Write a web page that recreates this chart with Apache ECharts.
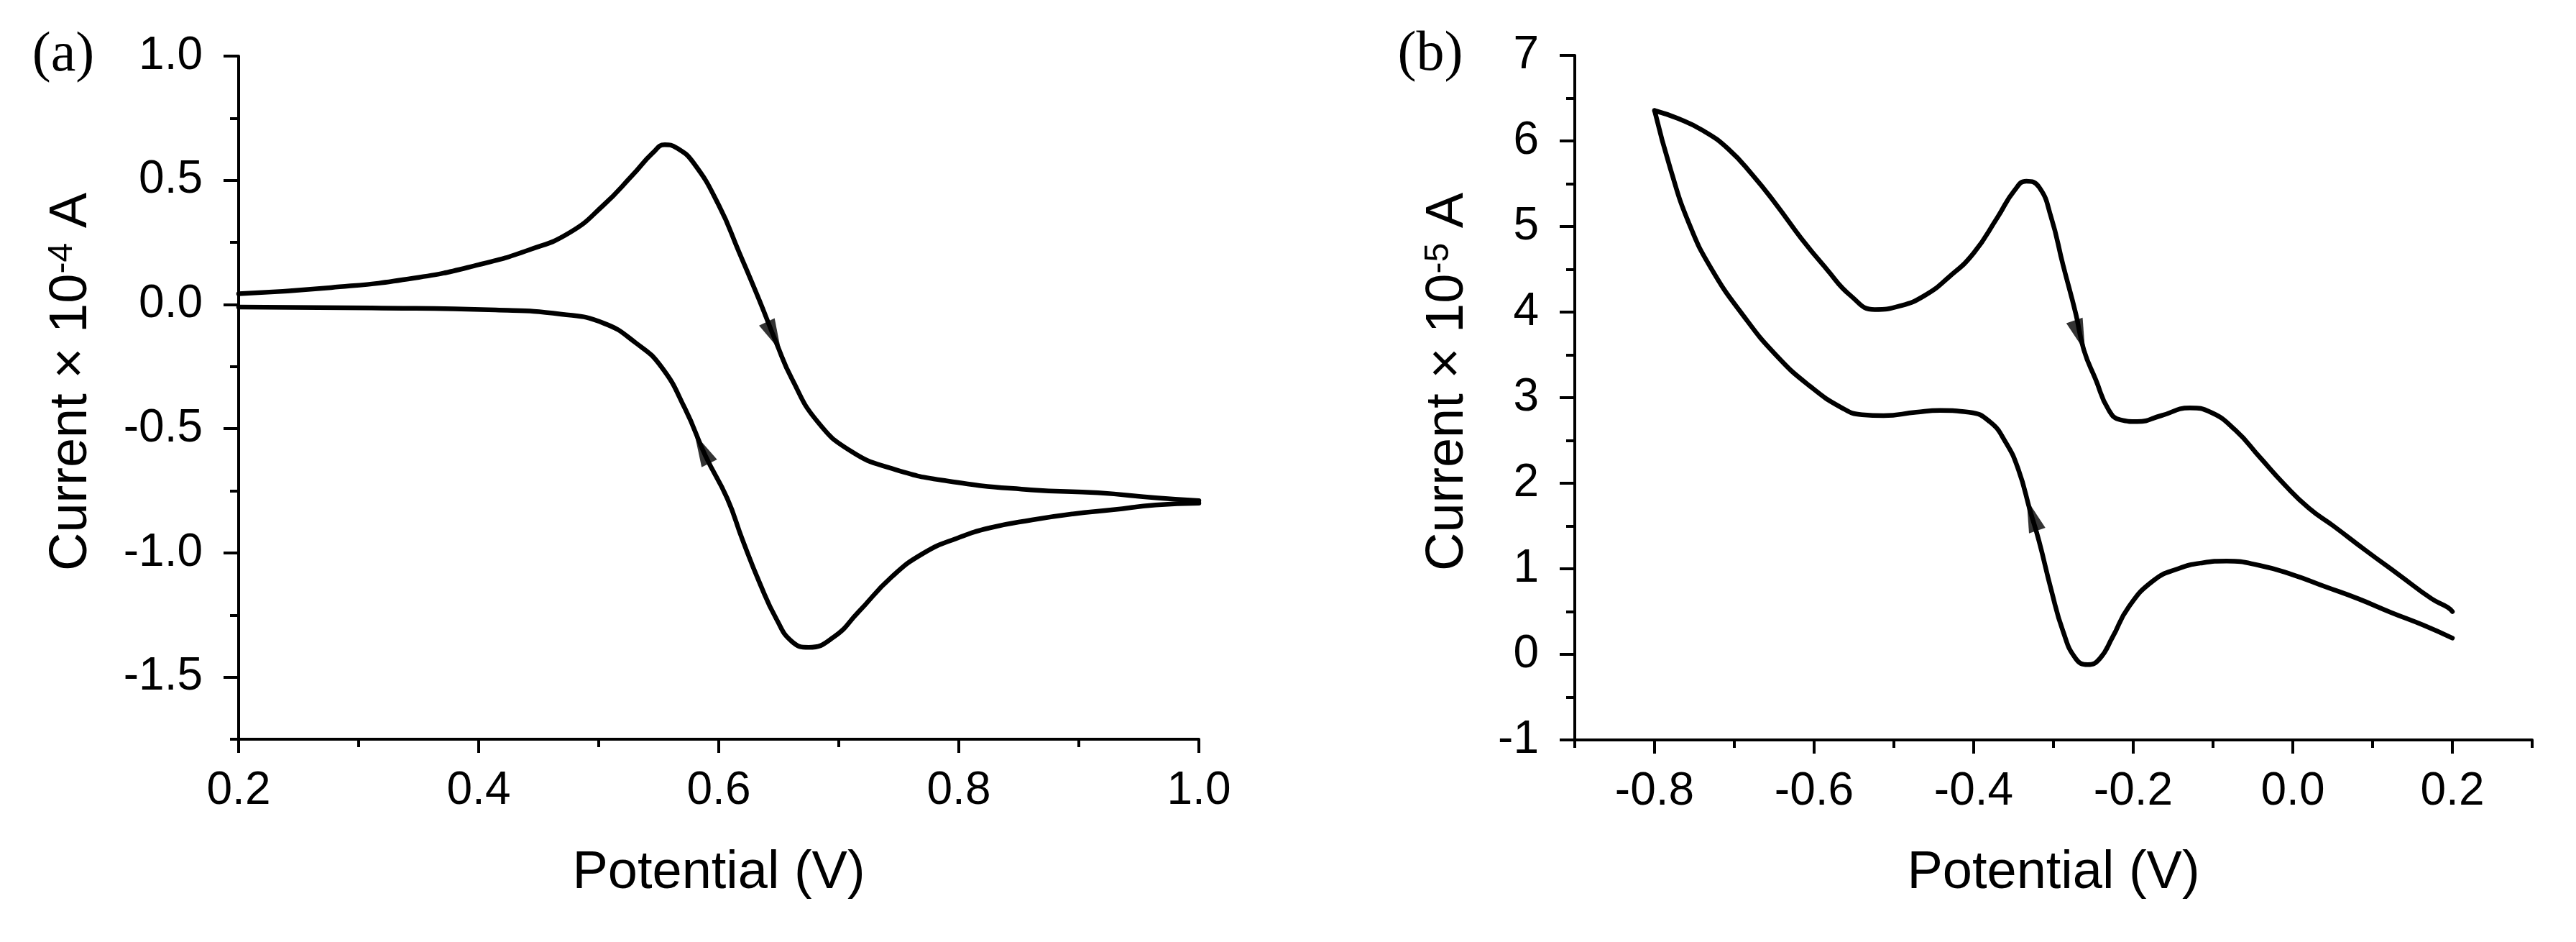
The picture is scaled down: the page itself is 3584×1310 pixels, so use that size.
<!DOCTYPE html>
<html>
<head>
<meta charset="utf-8">
<script src="https://cdn.jsdelivr.net/npm/echarts@6/dist/echarts.min.js"></script>
<style>html,body{margin:0;padding:0;background:#fff}#c{width:3584px;height:1310px}</style>
</head>
<body>
<div id="c"></div>
<script>
// ---------- Panel (a) data: potential (V) / current (x 1e-4 A) ----------
const aFwdV = [0.2,0.277,0.346,0.40,0.442,0.476,0.504,0.528,0.545,0.555,0.565,0.579,0.60,0.617,0.634,0.648,0.661,0.682,0.71,0.744,0.79,0.86,0.916,0.964,1.0];
const aFwdI = [0.043,0.068,0.106,0.16,0.22,0.29,0.40,0.52,0.61,0.643,0.63,0.57,0.40,0.21,0.015,-0.155,-0.30,-0.47,-0.59,-0.66,-0.71,-0.746,-0.758,-0.778,-0.79];
const aRevV = [1.0,0.964,0.929,0.895,0.861,0.826,0.799,0.771,0.744,0.716,0.696,0.675,0.661,0.648,0.634,0.62,0.607,0.589,0.572,0.552,0.531,0.504,0.469,0.414,0.311,0.2];
const aRevI = [-0.80,-0.807,-0.826,-0.843,-0.867,-0.899,-0.94,-1.0,-1.097,-1.24,-1.338,-1.38,-1.357,-1.266,-1.12,-0.95,-0.78,-0.61,-0.42,-0.25,-0.155,-0.075,-0.039,-0.022,-0.014,-0.01];
const aArrowFwd = [0.646, -0.13];
const aArrowRev = [0.586, -0.58];
const aXTicks = [0.2,0.4,0.6,0.8,1.0];
const aXMinor = [0.3,0.5,0.7,0.9];
const aYTicks = [-1.5,-1.0,-0.5,0,0.5,1.0];
const aYMinor = [-1.75,-1.25,-0.75,-0.25,0.25,0.75];

// ---------- Panel (b) data: potential (V) / current (x 1e-5 A) ----------
const bFwdV = [-0.80,-0.77,-0.739,-0.708,-0.677,-0.647,-0.616,-0.585,-0.554,-0.524,-0.493,-0.462,-0.431,-0.40,-0.37,-0.349,-0.334,-0.318,-0.303,-0.288,-0.272,-0.262,-0.247,-0.231,-0.216,-0.195,-0.165,-0.129,-0.103,-0.072,-0.041,-0.011,0.02,0.051,0.092,0.133,0.174,0.194,0.2];
const bFwdI = [6.355,6.26,6.12,5.91,5.60,5.25,4.86,4.51,4.19,4.03,4.07,4.19,4.41,4.69,5.11,5.42,5.53,5.46,5.11,4.55,3.98,3.56,3.21,2.86,2.74,2.72,2.79,2.88,2.83,2.62,2.30,1.99,1.71,1.50,1.21,0.93,0.65,0.55,0.50];
const bRevV = [0.2,0.164,0.123,0.082,0.041,0.0,-0.042,-0.083,-0.113,-0.144,-0.175,-0.206,-0.226,-0.242,-0.257,-0.272,-0.288,-0.303,-0.318,-0.329,-0.344,-0.36,-0.38,-0.406,-0.442,-0.472,-0.513,-0.54,-0.565,-0.606,-0.647,-0.688,-0.729,-0.757,-0.78,-0.80];
const bRevI = [0.19,0.34,0.49,0.65,0.79,0.93,1.04,1.09,1.07,1.00,0.86,0.55,0.20,-0.05,-0.12,-0.05,0.27,0.76,1.32,1.67,2.16,2.48,2.72,2.83,2.85,2.83,2.79,2.80,2.88,3.14,3.49,3.95,4.51,5.04,5.67,6.355];
const bArrowFwd = [-0.267, 3.72];
const bArrowRev = [-0.327, 1.63];
const bXTicks = [-0.8,-0.6,-0.4,-0.2,0,0.2];
const bXMinor = [-0.9,-0.7,-0.5,-0.3,-0.1,0.1,0.3];
const bYTicks = [-1,0,1,2,3,4,5,6,7];
const bYMinor = [-0.5,0.5,1.5,2.5,3.5,4.5,5.5,6.5];

const FONT = '"Liberation Sans", Arial, sans-serif';
const zip = (xs, ys) => xs.map((x, i) => [x, ys[i]]);

function axisPair(kind, gridIndex, min, max, majorVals, minorVals, fmt, majLen, minLen, margin) {
  const position = kind === 'x' ? 'bottom' : 'left';
  const ls = { color: '#000', width: 4 };
  const main = {
    type: 'value', gridIndex, min, max, position,
    axisLine: { show: true, onZero: false, lineStyle: ls },
    axisTick: { show: true, inside: false, length: majLen, customValues: majorVals, lineStyle: ls },
    axisLabel: { show: true, customValues: majorVals, formatter: fmt, margin,
      color: '#000', fontSize: 64, fontFamily: FONT },
    splitLine: { show: false }, minorTick: { show: false }
  };
  const minor = {
    type: 'value', gridIndex, min, max, position,
    axisLine: { show: false, onZero: false },
    axisTick: { show: true, inside: false, length: minLen, customValues: minorVals, lineStyle: ls },
    axisLabel: { show: false }, splitLine: { show: false }
  };
  return [main, minor];
}

const f1 = v => Number(v).toFixed(1);
const f0 = v => String(Math.round(v));

const xAxes = [
  ...axisPair('x', 0, 0.2, 1.0, aXTicks, aXMinor, f1, 19, 11, 40),
  ...axisPair('x', 1, -0.9, 0.3, bXTicks, bXMinor, f1, 19, 11, 40)
];
const yAxes = [
  ...axisPair('y', 0, -1.75, 1.0, aYTicks, aYMinor, f1, 21, 12, 50),
  ...axisPair('y', 1, -1, 7, bYTicks, bYMinor, f0, 21, 12, 50)
];

function curve(xi, yi, data) {
  return { type: 'line', xAxisIndex: xi, yAxisIndex: yi, data, symbol: 'none', showSymbol: false,
    smooth: 0.5, lineStyle: { color: '#000', width: 6.5, join: 'round', cap: 'round' }, silent: true, z: 3 };
}
function arrow(xi, yi, pos) {
  return { type: 'scatter', xAxisIndex: xi, yAxisIndex: yi, data: [pos], symbol: 'triangle',
    symbolSize: [24, 46], symbolRotate: 0, itemStyle: { color: '#000' }, silent: true, z: 5 };
}

const series = [
  curve(0, 0, zip(aFwdV, aFwdI)),   // 0
  curve(0, 0, zip(aRevV, aRevI)),   // 1
  curve(2, 2, zip(bFwdV, bFwdI)),   // 2
  curve(2, 2, zip(bRevV, bRevI)),   // 3
  arrow(0, 0, aArrowFwd),           // 4
  arrow(0, 0, aArrowRev),           // 5
  arrow(2, 2, bArrowFwd),           // 6
  arrow(2, 2, bArrowRev)            // 7
];

function yName(x, y, exp) {
  return { type: 'text', x, y, rotation: Math.PI / 2,
    style: { text: '{m|Current × 10}{s|' + exp + '}{m| A}',
      rich: { m: { fontSize: 74, fontFamily: FONT, fill: '#000', color: '#000' },
              s: { fontSize: 48, fontFamily: FONT, fill: '#000', color: '#000', verticalAlign: 'top' } },
      align: 'center', verticalAlign: 'middle', fill: '#000' } };
}
function plainText(x, y, text, font) {
  return { type: 'text', x, y, style: { text, font, fill: '#000', align: 'center', verticalAlign: 'middle' } };
}

const option = {
  animation: false,
  backgroundColor: '#fff',
  grid: [
    { left: 332, top: 78, width: 1336, height: 950 },
    { left: 2191, top: 77, width: 1332, height: 952 }
  ],
  xAxis: xAxes,
  yAxis: yAxes,
  series,
  graphic: [
    plainText(88, 78, '(a)', '78px "Liberation Serif", "Times New Roman", serif'),
    plainText(1990, 77, '(b)', '78px "Liberation Serif", "Times New Roman", serif'),
    yName(100, 531, '-4'),
    yName(2015, 531, '-5'),
    plainText(1000, 1215, 'Potential (V)', '74px ' + FONT),
    plainText(2857, 1215, 'Potential (V)', '74px ' + FONT)
  ]
};

const chart = echarts.init(document.getElementById('c'), null, { renderer: 'canvas' });
chart.setOption(option);

// orient arrowheads along the direction of travel of their branch
function arrowAngle(seriesIndex, vs, is, pos) {
  let best = 0, bd = Infinity;
  for (let i = 0; i < vs.length - 1; i++) {
    const d = Math.hypot(vs[i] - pos[0], (is[i] - pos[1]) * 0.3);
    if (d < bd) { bd = d; best = i; }
  }
  const i0 = Math.max(0, best - 1), i1 = Math.min(vs.length - 1, best + 2);
  const p0 = chart.convertToPixel({ seriesIndex }, [vs[i0], is[i0]]);
  const p1 = chart.convertToPixel({ seriesIndex }, [vs[i1], is[i1]]);
  const dx = p1[0] - p0[0], dy = p1[1] - p0[1];
  return Math.atan2(-dx, -dy) * 180 / Math.PI;
}
chart.setOption({ series: [
  {}, {}, {}, {},
  { symbolRotate: arrowAngle(0, aFwdV, aFwdI, aArrowFwd) },
  { symbolRotate: arrowAngle(1, aRevV, aRevI, aArrowRev) },
  { symbolRotate: arrowAngle(2, bFwdV, bFwdI, bArrowFwd) },
  { symbolRotate: arrowAngle(3, bRevV, bRevI, bArrowRev) }
] });
</script>
</body>
</html>
